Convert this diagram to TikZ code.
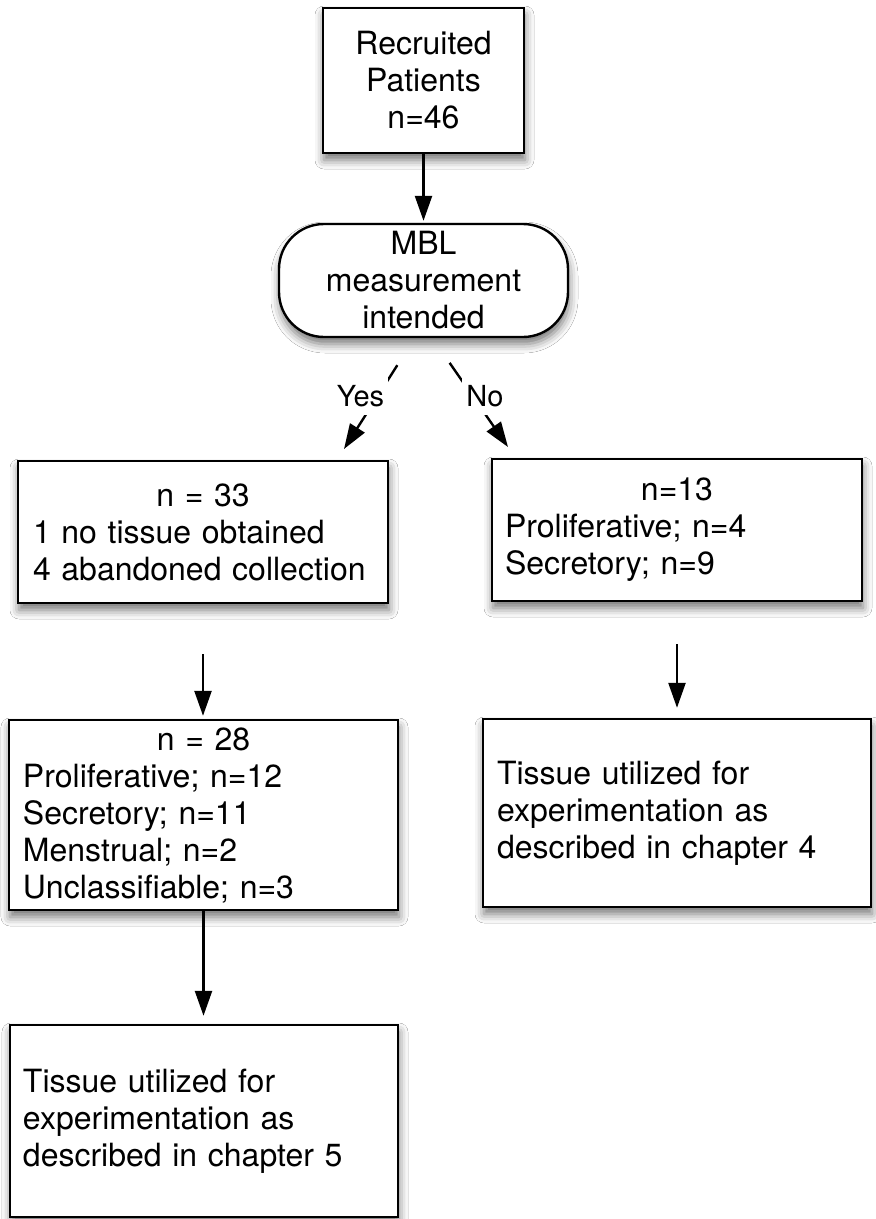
\documentclass[tikz,border=0pt]{standalone}
\usepackage{fontspec}
\setmainfont{TeX Gyre Heros}
\usetikzlibrary{arrows.meta,shadows.blur,calc}
\begin{document}
\begin{tikzpicture}[x=1pt,y=-1pt,
  base/.style={draw=black, line width=2.4pt, fill=white, inner sep=0pt,
    font=\fontsize{32}{37}\selectfont,
    blur shadow={shadow xshift=1pt, shadow yshift=-7pt, shadow blur radius=9pt, shadow opacity=55}},
  cbox/.style={base, rectangle, align=center},
  lbox/.style={base, rectangle, align=left},
  pill/.style={base, rectangle, rounded corners=45pt, align=center},
  arr/.style={line width=2.4pt, -{Triangle[length=25pt,width=17pt]}},
  lab/.style={fill=white, inner xsep=4pt, inner ysep=8pt, font=\fontsize{29}{34}\selectfont}
]
\useasboundingbox (0,0) rectangle (876,1219);
\fill[white] (0,0) rectangle (876,1219);

\node[cbox, minimum width=201pt, minimum height=145pt] (rec) at (423.5,80.5) {Recruited\\Patients\\n=46};
\node[pill, minimum width=289pt, minimum height=113pt] (mbl) at (423.5,280.5) {MBL\\measurement\\intended};

\node[lbox, minimum width=370pt, minimum height=142pt, text width=340pt] (n33) at (203,532)
  {\makebox[\hsize]{n = 33}\\1 no tissue obtained\\4 abandoned collection};
\node[lbox, minimum width=370pt, minimum height=142pt, text width=344pt] (n13) at (677,530)
  {\makebox[\hsize]{n=13}\\Proliferative; n=4\\Secretory; n=9};

\node[lbox, minimum width=389pt, minimum height=190pt, text width=361pt] (n28) at (203.5,815)
  {\makebox[\hsize]{n = 28}\\Proliferative; n=12\\Secretory; n=11\\Menstrual; n=2\\Unclassifiable; n=3};
\node[lbox, minimum width=388pt, minimum height=188pt, text width=360pt] (ch4) at (677,813)
  {Tissue utilized for\\experimentation as\\described in chapter 4};
\node[lbox, minimum width=388pt, minimum height=192pt, text width=362pt] (ch5) at (204,1121)
  {Tissue utilized for\\experimentation as\\described in chapter 5};

\coordinate (yesend) at (344,449);
\coordinate (noend) at (508,447);

\draw[arr, shorten >=2pt] (rec.south) -- (mbl.north);
\draw[arr, shorten <=32pt] ($(mbl.south)+(-9,0)$) -- (yesend);
\draw[arr, shorten <=30pt] ($(mbl.south)+(9,0)$) -- (noend);
\draw[arr, shorten <=50pt, shorten >=3pt] (n33.south) -- (n33.south |- n28.north);
\draw[arr, shorten <=42pt, shorten >=10pt] (n13.south) -- (n13.south |- ch4.north);
\draw[arr, shorten >=8pt] (n28.south) -- (n28.south |- ch5.north);

\node[lab] (yes) at (360.5,396) {Yes};
\node[lab] (no) at (485,396) {No};
\end{tikzpicture}
\end{document}
